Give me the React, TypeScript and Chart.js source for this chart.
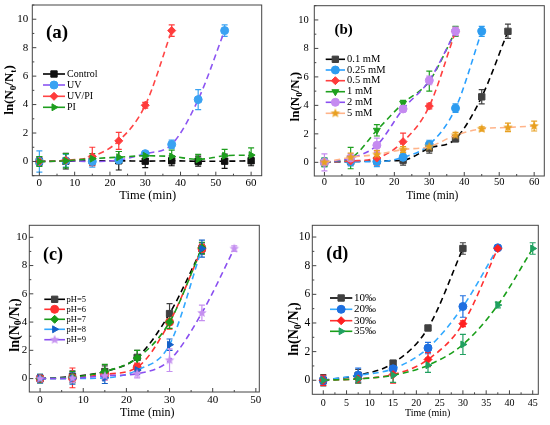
import { useEffect, useRef } from "react";
import { Chart, registerables } from "chart.js";
import { drawPoint } from "chart.js/helpers";
Chart.register(...registerables);

const SERIF = '"Liberation Serif", "Times New Roman", serif';

// ---- data (a) ----
const timeA = [0, 7.5, 15, 22.5, 30, 37.5, 45, 52.5, 60];
const controlA = [0, 0.02, 0.05, 0.05, 0.02, 0.05, 0.02, 0.02, 0.05];
const controlErrA = [0.3, 0.55, 0.3, 0.65, 0.45, 0.35, 0.35, 0.5, 0.35];
const uvA = [0, 0.05, 0, 0.1, 0.55, 1.2, 4.35, 9.2];
const uvErrA = [0.75, 0.45, 0.4, 0.2, 0.15, 0.3, 0.7, 0.4];
const uvPiA = [0, 0.08, 0.35, 1.45, 3.95, 9.2];
const uvPiErrA = [0.2, 0.15, 0.65, 0.6, 0.2, 0.4];
const piA = [0, 0.05, 0.2, 0.3, 0.4, 0.35, 0.15, 0.4, 0.45];
const piErrA = [0.35, 0.5, 0.35, 0.4, 0.2, 0.45, 0.35, 0.45, 0.5];

// ---- data (b) ----
const timeB = [0, 7.5, 15, 22.5, 30, 37.5, 45, 52.5, 60];
const mM01 = [0, 0.05, 0.1, 0.15, 1.0, 1.65, 4.6, 9.2];
const mM01Err = [0.2, 0.2, 0.2, 0.35, 0.35, 0.2, 0.5, 0.5];
const mM025 = [0, 0.05, 0.05, 0.35, 1.25, 3.8, 9.2];
const mM025Err = [0.3, 0.3, 0.35, 0.3, 0.3, 0.3, 0.35];
const mM05 = [0, 0.1, 0.3, 1.45, 3.95, 9.2];
const mM05Err = [0.2, 0.2, 0.5, 0.6, 0.2, 0.3];
const mM1 = [0, 0.3, 2.25, 4.15, 5.7, 9.2];
const mM1Err = [0.3, 0.75, 0.4, 0.2, 0.7, 0.35];
const mM2 = [0, 0.3, 1.2, 3.75, 5.75, 9.2];
const mM2Err = [0.6, 0.3, 0.5, 0.2, 0.3, 0.3];
const mM5 = [0, 0.35, 0.55, 0.9, 1.1, 1.9, 2.35, 2.45, 2.55];
const mM5Err = [0.2, 0.3, 0.3, 0.2, 0.3, 0.2, 0.15, 0.3, 0.35];

// ---- data (c) ----
const timeC = [0, 7.5, 15, 22.5, 30, 37.5, 45];
const pH5 = [0, 0.15, 0.5, 1.5, 4.6, 9.2];
const pH5Err = [0.2, 0.4, 0.4, 0.5, 0.7, 0.4];
const pH6 = [0, 0.05, 0.3, 0.8, 4.0, 9.2];
const pH6Err = [0.2, 0.7, 0.4, 0.3, 0.5, 0.3];
const pH7 = [0, 0.1, 0.5, 1.45, 4.0, 9.25];
const pH7Err = [0.3, 0.4, 0.5, 0.55, 0.45, 0.4];
const pH8 = [0, 0, 0.05, 0.6, 2.4, 9.2];
const pH8Err = [0.3, 0.4, 0.4, 0.3, 0.4, 0.6];
const pH9 = [0, 0.02, 0.2, 0.35, 1.3, 4.65, 9.2];
const pH9Err = [0.1, 0.3, 0.3, 0.3, 0.8, 0.55, 0.2];

// ---- data (d) ----
const timeD = [0, 7.5, 15, 22.5, 30, 37.5, 45];
const sal10 = [0, 0.35, 1.2, 3.65, 9.2];
const sal10Err = [0.4, 0.4, 0.15, 0.1, 0.4];
const sal20 = [0, 0.35, 0.8, 2.25, 5.15, 9.25];
const sal20Err = [0.3, 0.5, 0.3, 0.4, 0.75, 0.15];
const sal30 = [0, 0.1, 0.4, 1.45, 3.95, 9.2];
const sal30Err = [0.35, 0.3, 0.6, 0.5, 0.2, 0.1];
const sal35 = [0, 0.1, 0.35, 1.05, 2.5, 5.25, 9.2];
const sal35Err = [0.2, 0.3, 0.5, 0.5, 0.7, 0.2, 0.4];

const ticksA = [0, 10, 20, 30, 40, 50, 60];
const ticksC = [0, 10, 20, 30, 40, 50];
const ticksD = [0, 5, 10, 15, 20, 25, 30, 35, 40, 45];
const ticksY = [0, 2, 4, 6, 8, 10];

function makeStar(color: string, r: number) {
  const c = document.createElement("canvas");
  const s = Math.ceil(r * 2 + 2);
  c.width = s;
  c.height = s;
  const g = c.getContext("2d")!;
  g.fillStyle = color;
  g.beginPath();
  for (let i = 0; i < 10; i++) {
    const rr = i % 2 === 0 ? r : r * 0.45;
    const a = -Math.PI / 2 + (i * Math.PI) / 5;
    g.lineTo(s / 2 + rr * Math.cos(a), s / 2 + rr * Math.sin(a));
  }
  g.closePath();
  g.fill();
  return c;
}

type Series = {
  label: string;
  y: number[];
  err: number[];
  marker: string;
  line: string;
  shape: any;
  rot?: number;
  r?: number;
};

type PanelSpec = {
  id: string;
  left: number;
  top: number;
  w: number;
  h: number;
  area: { l: number; t: number; r: number; b: number };
  xr: [number, number];
  yr: [number, number];
  time: number[];
  xTicks: number[];
  xFont: number;
  yFont: number;
  xOff: number;
  yPad: number;
  label: { text: string; x: number; y: number; size: number };
  legend: { x0: number; x1: number; tx: number; rows: number[]; size: number };
  xTitle: { x: number; y: number; size: number };
  yTitle: { x: number; y: number; size: number };
  series: Series[];
};

const panels: PanelSpec[] = [
  {
    id: "a", left: 0, top: 0, w: 275, h: 212,
    area: { l: 32.3, t: 5, r: 261.7, b: 175.7 },
    xr: [-2, 63], yr: [-1, 11], time: timeA, xTicks: ticksA,
    xFont: 11, yFont: 11, xOff: 7, yPad: 4,
    label: { text: "(a)", x: 57, y: 33, size: 19 },
    legend: { x0: 43, x1: 65, tx: 67, rows: [74, 85, 96.3, 107.3], size: 10 },
    xTitle: { x: 147.7, y: 196, size: 12.5 },
    yTitle: { x: 10, y: 90, size: 13 },
    series: [
      { label: "Control", y: controlA, err: controlErrA, marker: "#111111", line: "#000000", shape: "rect", r: 4.5 },
      { label: "UV", y: uvA, err: uvErrA, marker: "#3AA2F2", line: "#8C55F2", shape: "circle" },
      { label: "UV/PI", y: uvPiA, err: uvPiErrA, marker: "#FF3B3B", line: "#FF4545", shape: "rectRot" },
      { label: "PI", y: piA, err: piErrA, marker: "#1E9E1E", line: "#1E9E1E", shape: "triangle", rot: 90 },
    ],
  },
  {
    id: "b", left: 275, top: 0, w: 275, h: 212,
    area: { l: 39.3, t: 5.7, r: 269.3, b: 176 },
    xr: [-2.9, 62.9], yr: [-0.96, 11], time: timeB, xTicks: ticksA,
    xFont: 10.5, yFont: 10.5, xOff: 6.7, yPad: 5.5,
    label: { text: "(b)", x: 68.7, y: 30, size: 15 },
    legend: { x0: 50.7, x1: 70, tx: 72, rows: [59.3, 70, 80.7, 91.7, 102.3, 113.3], size: 10.5 },
    xTitle: { x: 157.3, y: 196, size: 11.5 },
    yTitle: { x: 20.7, y: 96.7, size: 13 },
    series: [
      { label: "0.1 mM", y: mM01, err: mM01Err, marker: "#404040", line: "#000000", shape: "rect", r: 4.5 },
      { label: "0.25 mM", y: mM025, err: mM025Err, marker: "#2D9CF0", line: "#2AA0FF", shape: "circle" },
      { label: "0.5 mM", y: mM05, err: mM05Err, marker: "#FF3B3B", line: "#FF4040", shape: "rectRot" },
      { label: "1 mM", y: mM1, err: mM1Err, marker: "#1FA01F", line: "#1FA01F", shape: "triangle", rot: 180 },
      { label: "2 mM", y: mM2, err: mM2Err, marker: "#C58AF0", line: "#8A4FF0", shape: "circle" },
      { label: "5 mM", y: mM5, err: mM5Err, marker: "#E8A020", line: "#FFB48A", shape: "star", r: 5 },
    ],
  },
  {
    id: "c", left: 0, top: 212, w: 275, h: 213,
    area: { l: 29.3, t: 13.3, r: 259.3, b: 180 },
    xr: [-2.5, 50.8], yr: [-0.95, 10.85], time: timeC, xTicks: ticksC,
    xFont: 11, yFont: 11, xOff: 7.7, yPad: 2,
    label: { text: "(c)", x: 53, y: 43.3, size: 18 },
    legend: { x0: 44.3, x1: 65, tx: 66.5, rows: [87.3, 97.3, 107.3, 117.3, 127.7], size: 8.5 },
    xTitle: { x: 147.3, y: 201, size: 12 },
    yTitle: { x: 15, y: 113, size: 14 },
    series: [
      { label: "pH=5", y: pH5, err: pH5Err, marker: "#404040", line: "#000000", shape: "rect", r: 4.5 },
      { label: "pH=6", y: pH6, err: pH6Err, marker: "#FF3030", line: "#FF3030", shape: "circle" },
      { label: "pH=7", y: pH7, err: pH7Err, marker: "#1A9A1A", line: "#1A9A1A", shape: "rectRot" },
      { label: "pH=8", y: pH8, err: pH8Err, marker: "#1560C8", line: "#33A8FF", shape: "triangle", rot: 90 },
      { label: "pH=9", y: pH9, err: pH9Err, marker: "#C590F0", line: "#8A4FF0", shape: "star", r: 5 },
    ],
  },
  {
    id: "d", left: 275, top: 212, w: 275, h: 213,
    area: { l: 37.3, t: 13.3, r: 263.3, b: 182.3 },
    xr: [-2.36, 46.2], yr: [-0.98, 10.82], time: timeD, xTicks: ticksD,
    xFont: 10, yFont: 11.5, xOff: 9.2, yPad: 2,
    label: { text: "(d)", x: 62.2, y: 42.7, size: 18 },
    legend: { x0: 55, x1: 77.3, tx: 79, rows: [86, 97.3, 108.7, 119.3], size: 11 },
    xTitle: { x: 152.7, y: 201.7, size: 10 },
    yTitle: { x: 19.3, y: 117, size: 14 },
    series: [
      { label: "10‰", y: sal10, err: sal10Err, marker: "#404040", line: "#000000", shape: "rect", r: 4.5 },
      { label: "20‰", y: sal20, err: sal20Err, marker: "#1E6FE0", line: "#33AAFF", shape: "circle" },
      { label: "30‰", y: sal30, err: sal30Err, marker: "#FF2020", line: "#FF3030", shape: "rectRot" },
      { label: "35‰", y: sal35, err: sal35Err, marker: "#20A060", line: "#1A9F1A", shape: "triangle", rot: 90 },
    ],
  },
];

function pointStyleOf(s: Series) {
  return s.shape === "star" ? makeStar(s.marker, s.r ?? 5) : s.shape;
}

const errorBars = {
  id: "errorBars",
  beforeDatasetsDraw(chart: any) {
    const { ctx, chartArea, scales } = chart;
    ctx.save();
    ctx.beginPath();
    ctx.rect(chartArea.left, chartArea.top, chartArea.right - chartArea.left, chartArea.bottom - chartArea.top);
    ctx.clip();
    ctx.lineWidth = 1.2;
    chart.data.datasets.forEach((ds: any) => {
      ctx.strokeStyle = ds.pointBorderColor;
      ds.data.forEach((p: any, i: number) => {
        const e = ds.errors[i];
        const x = scales.x.getPixelForValue(p.x);
        const y1 = scales.y.getPixelForValue(p.y - e);
        const y2 = scales.y.getPixelForValue(p.y + e);
        ctx.beginPath();
        ctx.moveTo(x, y1);
        ctx.lineTo(x, y2);
        ctx.moveTo(x - 3, y1);
        ctx.lineTo(x + 3, y1);
        ctx.moveTo(x - 3, y2);
        ctx.lineTo(x + 3, y2);
        ctx.stroke();
      });
    });
    ctx.restore();
  },
};

const frame = {
  id: "frame",
  afterDraw(chart: any) {
    const { ctx, chartArea: a, scales } = chart;
    const p: PanelSpec = chart.options.plugins.frame.spec;
    ctx.save();
    ctx.strokeStyle = "#444444";
    ctx.lineWidth = 1;
    ctx.strokeRect(a.left, a.top, a.right - a.left, a.bottom - a.top);
    const xs = p.xTicks;
    const xStep = xs[1] - xs[0];
    ctx.beginPath();
    for (let v = xs[0] - xStep / 2; v <= p.xr[1]; v += xStep / 2) {
      if (v < p.xr[0]) continue;
      const major = xs.includes(v);
      const x = scales.x.getPixelForValue(v);
      ctx.moveTo(x, a.bottom);
      ctx.lineTo(x, a.bottom - (major ? 4 : 2));
    }
    for (let v = -1; v <= p.yr[1]; v += 1) {
      if (v < p.yr[0]) continue;
      const major = ticksY.includes(v);
      const y = scales.y.getPixelForValue(v);
      ctx.moveTo(a.left, y);
      ctx.lineTo(a.left + (major ? 4 : 2), y);
    }
    ctx.stroke();

    // tick labels
    ctx.fillStyle = "#000";
    ctx.textBaseline = "middle";
    ctx.textAlign = "center";
    ctx.font = `${p.xFont}px ${SERIF}`;
    xs.forEach((v) => ctx.fillText(String(v), scales.x.getPixelForValue(v), a.bottom + p.xOff));
    ctx.textAlign = "right";
    ctx.font = `${p.yFont}px ${SERIF}`;
    ticksY.forEach((v) => ctx.fillText(String(v), a.left - p.yPad, scales.y.getPixelForValue(v)));

    // panel label
    ctx.textAlign = "center";
    ctx.font = `bold ${p.label.size}px ${SERIF}`;
    ctx.fillText(p.label.text, p.label.x, p.label.y);

    // x title
    ctx.font = `${p.xTitle.size}px ${SERIF}`;
    ctx.fillText("Time (min)", p.xTitle.x, p.xTitle.y);

    // y title with subscripts
    const t = p.yTitle;
    const big = `bold ${t.size}px ${SERIF}`;
    const small = `bold ${t.size * 0.7}px ${SERIF}`;
    const parts: [string, string, number][] = [
      ["ln(N", big, 0],
      ["0", small, t.size * 0.28],
      ["/N", big, 0],
      ["t", small, t.size * 0.28],
      [")", big, 0],
    ];
    let total = 0;
    parts.forEach(([s, f]) => {
      ctx.font = f;
      total += ctx.measureText(s).width;
    });
    ctx.save();
    ctx.translate(t.x, t.y);
    ctx.rotate(-Math.PI / 2);
    ctx.textAlign = "left";
    let cx = -total / 2;
    parts.forEach(([s, f, dy]) => {
      ctx.font = f;
      ctx.fillText(s, cx, dy);
      cx += ctx.measureText(s).width;
    });
    ctx.restore();

    // legend
    const L = p.legend;
    p.series.forEach((s, i) => {
      const y = L.rows[i];
      ctx.strokeStyle = s.line;
      ctx.lineWidth = 1.6;
      ctx.setLineDash([]);
      ctx.beginPath();
      ctx.moveTo(L.x0, y);
      ctx.lineTo(L.x1, y);
      ctx.stroke();
      const ds = chart.data.datasets[i];
      ctx.fillStyle = s.marker;
      ctx.strokeStyle = s.marker;
      ctx.lineWidth = 1;
      drawPoint(ctx, { pointStyle: ds.pointStyle, rotation: s.rot ?? 0, radius: s.r ?? 4, borderWidth: 1 }, (L.x0 + L.x1) / 2, y);
      ctx.fillStyle = "#000";
      ctx.font = `${L.size}px ${SERIF}`;
      ctx.textAlign = "left";
      ctx.textBaseline = "middle";
      ctx.fillText(s.label, L.tx, y);
    });
    ctx.restore();
  },
};

function buildConfig(p: PanelSpec): any {
  const datasets = p.series.map((s, i) => ({
    label: s.label,
    data: s.y.map((y, j) => ({ x: p.time[j], y })),
    errors: s.err,
    borderColor: s.line,
    backgroundColor: s.marker,
    pointBackgroundColor: s.marker,
    pointBorderColor: s.marker,
    pointStyle: pointStyleOf(s),
    pointRotation: s.rot ?? 0,
    pointRadius: s.r ?? 4,
    pointBorderWidth: 1,
    borderWidth: 1.6,
    borderDash: [6, 4],
    cubicInterpolationMode: "monotone",
    order: -i,
  }));
  const a = p.area;
  return {
    type: "line",
    data: { datasets },
    plugins: [errorBars, frame],
    options: {
      responsive: false,
      animation: false,
      layout: { autoPadding: false, padding: { left: 0, top: a.t, right: p.w - a.r, bottom: 0 } },
      plugins: { legend: { display: false }, tooltip: { enabled: false }, frame: { spec: p } },
      scales: {
        x: {
          type: "linear",
          min: p.xr[0],
          max: p.xr[1],
          grid: { display: false },
          border: { display: false },
          ticks: { display: false },
          afterBuildTicks: (sc: any) => { sc.ticks = p.xTicks.map((v) => ({ value: v })); },
          afterFit: (sc: any) => { sc.height = p.h - a.b; },
        },
        y: {
          type: "linear",
          min: p.yr[0],
          max: p.yr[1],
          grid: { display: false },
          border: { display: false },
          ticks: { display: false },
          afterBuildTicks: (sc: any) => { sc.ticks = ticksY.map((v) => ({ value: v })); },
          afterFit: (sc: any) => { sc.width = a.l; },
        },
      },
    },
  };
}

function Panel({ spec }: { spec: PanelSpec }) {
  const canvasRef = useRef<HTMLCanvasElement>(null);

  useEffect(() => {
    if (!canvasRef.current) return;
    const chart = new Chart(canvasRef.current, buildConfig(spec));
    return () => chart.destroy();
  }, [spec]);

  return (
    <canvas
      ref={canvasRef}
      width={spec.w}
      height={spec.h}
      style={{ position: "absolute", left: spec.left, top: spec.top, width: spec.w, height: spec.h }}
    />
  );
}

export default function App() {
  return (
    <div style={{ position: "fixed", left: 0, top: 0, width: 550, height: 425, background: "#fff", overflow: "hidden" }}>
      {panels.map((p) => (
        <Panel key={p.id} spec={p} />
      ))}
    </div>
  );
}
